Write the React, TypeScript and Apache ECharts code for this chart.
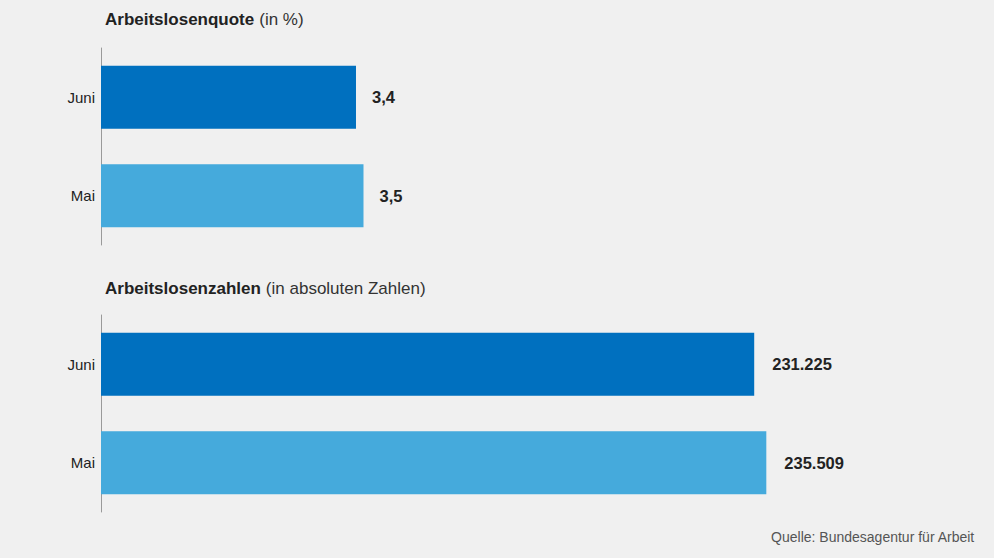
import React, { useEffect, useRef } from "react";
import * as echarts from "echarts";

const categories = ["Juni", "Mai"];
const quoteValues = [3.4, 3.5];
const absoluteValues = [231225, 235509];
const barColors = ["#0070bf", "#45aadc"];
const titleQuote = ["Arbeitslosenquote", "(in %)"];
const titleAbs = ["Arbeitslosenzahlen", "(in absoluten Zahlen)"];
const sourceText = "Quelle: Bundesagentur für Arbeit";

const fmtDecimal = (v: number) => String(v).replace(".", ",");
const fmtThousands = (v: number) =>
  String(Math.round(v)).replace(/\B(?=(\d{3})+(?!\d))/g, ".");

const FONT = "Liberation Sans, Arial, sans-serif";

export default function App() {
  const ref = useRef<HTMLDivElement>(null);
  useEffect(() => {
    if (!ref.current) return;
    const chart = echarts.init(ref.current, null, { renderer: "svg" });
    const rich = {
      b: { fontFamily: FONT, fontSize: 17, fontWeight: "bold", color: "#222" },
      n: { fontFamily: FONT, fontSize: 17, fontWeight: "normal", color: "#333" },
    };
    const yAxisCommon = {
      type: "category" as const,
      data: categories,
      inverse: true,
      axisLine: { show: true, lineStyle: { color: "#9a9a9a", width: 1 } },
      axisTick: { show: false },
      axisLabel: { fontFamily: FONT, fontSize: 15, color: "#222", margin: 6 },
      splitLine: { show: false },
    };
    const xAxisCommon = {
      type: "value" as const,
      min: 0,
      show: false,
      splitLine: { show: false },
    };
    const labelCommon = {
      show: true,
      position: "right" as const,
      distance: 16,
      fontFamily: FONT,
      fontSize: 16.5,
      fontWeight: "bold" as const,
      color: "#222",
    };
    chart.setOption({
      animation: false,
      backgroundColor: "#f0f0f0",
      title: [
        {
          text: `{b|${titleQuote[0]}} {n|${titleQuote[1]}}`,
          left: 105,
          top: 9,
          padding: 0,
          textStyle: { rich, lineHeight: 20 },
        },
        {
          text: `{b|${titleAbs[0]}} {n|${titleAbs[1]}}`,
          left: 105,
          top: 278,
          padding: 0,
          textStyle: { rich, lineHeight: 20 },
        },
        {
          text: sourceText,
          right: 19,
          top: 530,
          padding: 0,
          textStyle: { fontFamily: FONT, fontSize: 14, fontWeight: "normal", color: "#555" },
        },
      ],
      grid: [
        { left: 101, top: 48, width: 800, height: 197 },
        { left: 101, top: 315, width: 800, height: 197 },
      ],
      xAxis: [
        { ...xAxisCommon, gridIndex: 0, max: 10.667 },
        { ...xAxisCommon, gridIndex: 1, max: 283186 },
      ],
      yAxis: [
        { ...yAxisCommon, gridIndex: 0 },
        { ...yAxisCommon, gridIndex: 1 },
      ],
      series: [
        {
          type: "bar",
          xAxisIndex: 0,
          yAxisIndex: 0,
          barWidth: 63,
          data: quoteValues.map((v, i) => ({ value: v, itemStyle: { color: barColors[i] } })),
          label: { ...labelCommon, formatter: (p: any) => fmtDecimal(p.value) },
        },
        {
          type: "bar",
          xAxisIndex: 1,
          yAxisIndex: 1,
          barWidth: 63,
          data: absoluteValues.map((v, i) => ({ value: v, itemStyle: { color: barColors[i] } })),
          label: { ...labelCommon, distance: 18, formatter: (p: any) => fmtThousands(p.value) },
        },
      ],
    });
    return () => chart.dispose();
  }, []);
  return <div ref={ref} style={{ width: 994, height: 558, position: "fixed", left: 0, top: 0 }} />;
}
